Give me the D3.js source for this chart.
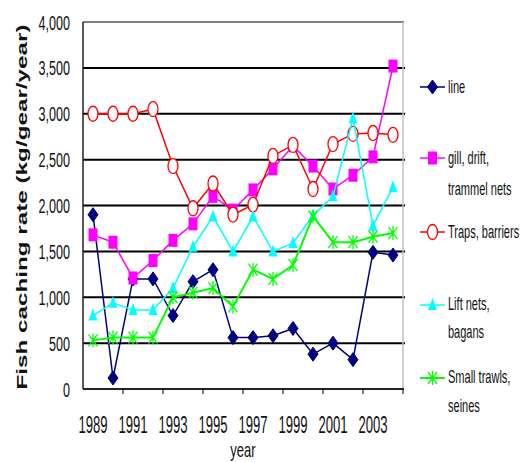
<!DOCTYPE html>
<html>
<head>
<meta charset="utf-8">
<script src="https://cdn.jsdelivr.net/npm/d3@7"></script>
<style>
  html, body { margin: 0; padding: 0; background: #fff; }
  svg { display: block; }
  text { font-family: "Liberation Sans", Arial, sans-serif; fill: #111; }
</style>
</head>
<body>
<svg id="chart" width="523" height="462"></svg>
<script>
// Fish catching rate by gear type, 1989-2004 (kg/gear/year)
const years = [1989, 1990, 1991, 1992, 1993, 1994, 1995, 1996,
               1997, 1998, 1999, 2000, 2001, 2002, 2003, 2004];
const lineValues   = [1900, 120, 1200, 1200, 800, 1170, 1300, 560, 560, 580, 660, 380, 500, 320, 1490, 1460];
const gillValues   = [1680, 1600, 1210, 1400, 1620, 1800, 2100, 1950, 2170, 2400, 2650, 2430, 2180, 2330, 2530, 3520];
const trapValues   = [3000, 3000, 3000, 3050, 2430, 1970, 2240, 1900, 2010, 2540, 2660, 2180, 2670, 2780, 2790, 2770];
const liftValues   = [800, 940, 860, 860, 1100, 1550, 1880, 1500, 1880, 1500, 1590, 1890, 2100, 2950, 1780, 2200];
const trawlValues  = [530, 560, 560, 560, 1000, 1050, 1100, 900, 1300, 1200, 1350, 1880, 1600, 1600, 1660, 1700];
const seriesNames  = [["line"], ["gill, drift,", "trammel nets"], ["Traps, barriers"], ["Lift nets,", "bagans"], ["Small trawls,", "seines"]];
const yTicks = [0, 500, 1000, 1500, 2000, 2500, 3000, 3500, 4000];
const xLabelYears = [1989, 1991, 1993, 1995, 1997, 1999, 2001, 2003];

const series = [
  { name: seriesNames[0], values: lineValues,  color: "#000080", marker: "diamond",  width: 1.5 },
  { name: seriesNames[1], values: gillValues,  color: "#ff00ff", marker: "square",   width: 1.5 },
  { name: seriesNames[2], values: trapValues,  color: "#ff0000", marker: "circle",   width: 1.5 },
  { name: seriesNames[3], values: liftValues,  color: "#00ffff", marker: "triangle", width: 1.5 },
  { name: seriesNames[4], values: trawlValues, color: "#00ff00", marker: "star",     width: 2 }
];

const plot = { left: 83, right: 403, top: 22, bottom: 389 };
const svg = d3.select("#chart");

const x = d3.scaleBand().domain(years).range([plot.left, plot.right]);
const cx = d => x(d) + x.bandwidth() / 2;
const y = d3.scaleLinear().domain([0, 4000]).range([plot.bottom, plot.top]);

// condensed text: placed with a horizontal scale around its anchor point
function condensed(parent, px, py, str, size, factor, anchor, weight) {
  return parent.append("text")
    .attr("transform", `translate(${px},${py}) scale(${factor},1)`)
    .attr("text-anchor", anchor)
    .attr("font-size", size)
    .attr("font-weight", weight || "normal")
    .text(str);
}

// gridlines
svg.append("g").selectAll("line")
  .data(yTicks.filter(v => v > 0 && v < 4000))
  .join("line")
  .attr("x1", plot.left).attr("x2", plot.right + 2)
  .attr("y1", d => y(d)).attr("y2", d => y(d))
  .attr("stroke", "#000").attr("stroke-width", 2);

// plot area frame
svg.append("line").attr("x1", plot.left).attr("x2", plot.right + 1)
  .attr("y1", plot.top).attr("y2", plot.top)
  .attr("stroke", "#808080").attr("stroke-width", 2);
svg.append("line").attr("x1", plot.right).attr("x2", plot.right)
  .attr("y1", plot.top).attr("y2", plot.bottom)
  .attr("stroke", "#c0c0c0").attr("stroke-width", 1.5);
svg.append("line").attr("x1", plot.left).attr("x2", plot.left)
  .attr("y1", plot.top).attr("y2", plot.bottom)
  .attr("stroke", "#222").attr("stroke-width", 1.5);
svg.append("line").attr("x1", plot.left).attr("x2", plot.right + 1)
  .attr("y1", plot.bottom).attr("y2", plot.bottom)
  .attr("stroke", "#222").attr("stroke-width", 2);

// x tick marks at every second category boundary
const xTickPos = xLabelYears.slice(1).map(v => x(v)).concat([plot.right]);
svg.append("g").selectAll("line").data(xTickPos).join("line")
  .attr("x1", d => d).attr("x2", d => d)
  .attr("y1", plot.bottom).attr("y2", plot.bottom + 5)
  .attr("stroke", "#222").attr("stroke-width", 1.2);

// y tick labels
const yLab = svg.append("g");
yTicks.forEach(v => condensed(yLab, 70, y(v) + 7.5, d3.format(",")(v), 21, 0.6, "end"));

// x tick labels
const xLab = svg.append("g");
xLabelYears.forEach(v => condensed(xLab, cx(v), 433, String(v), 23, 0.57, "middle"));

// axis titles
condensed(svg, (plot.left + plot.right) / 2, 457, "year", 21, 0.62, "middle");
svg.append("text")
  .attr("transform", "translate(27,207) rotate(-90)")
  .attr("x", 0).attr("y", 0)
  .attr("font-size", 15).attr("font-weight", "bold")
  .attr("text-anchor", "middle")
  .attr("textLength", 365).attr("lengthAdjust", "spacingAndGlyphs")
  .text("Fish caching rate (kg/gear/year)");

// marker shapes (taller than wide)
function drawMarker(g, type, color, px, py) {
  if (type === "diamond") {
    g.append("path").attr("d", `M${px},${py - 7}L${px + 5},${py}L${px},${py + 7}L${px - 5},${py}Z`)
      .attr("fill", color).attr("stroke", color);
  } else if (type === "square") {
    g.append("rect").attr("x", px - 4.5).attr("y", py - 6.5).attr("width", 9).attr("height", 13)
      .attr("fill", color);
  } else if (type === "circle") {
    g.append("ellipse").attr("cx", px).attr("cy", py).attr("rx", 5).attr("ry", 7.5)
      .attr("fill", "#fff").attr("stroke", color).attr("stroke-width", 1.3);
  } else if (type === "triangle") {
    g.append("path").attr("d", `M${px},${py - 7}L${px + 4.5},${py + 5}L${px - 4.5},${py + 5}Z`)
      .attr("fill", color);
  } else if (type === "star") {
    g.append("path")
      .attr("d", `M${px - 4.5},${py - 6}L${px + 4.5},${py + 6}M${px + 4.5},${py - 6}L${px - 4.5},${py + 6}M${px},${py - 7}L${px},${py + 7}`)
      .attr("stroke", color).attr("stroke-width", 1.3).attr("fill", "none");
  }
}

const lineGen = d3.line().x((d, i) => cx(years[i])).y(d => y(d));

series.forEach(s => {
  const g = svg.append("g");
  g.append("path").datum(s.values).attr("d", lineGen)
    .attr("fill", "none").attr("stroke", s.color).attr("stroke-width", s.width);
  s.values.forEach((v, i) => drawMarker(g, s.marker, s.color, cx(years[i]), y(v)));
});

// legend
const legendRows = [
  { markY: 87,  baselines: [93] },
  { markY: 158, baselines: [164, 195] },
  { markY: 232, baselines: [238] },
  { markY: 305, baselines: [310, 338] },
  { markY: 378, baselines: [383, 412] }
];
series.forEach((s, k) => {
  const row = legendRows[k];
  const g = svg.append("g");
  g.append("line").attr("x1", 420).attr("x2", 445)
    .attr("y1", row.markY).attr("y2", row.markY)
    .attr("stroke", s.color).attr("stroke-width", s.width);
  drawMarker(g, s.marker, s.color, 432.5, row.markY);
  s.name.forEach((label, j) => condensed(g, 448, row.baselines[j], label, 19, 0.58, "start"));
});
</script>
</body>
</html>
